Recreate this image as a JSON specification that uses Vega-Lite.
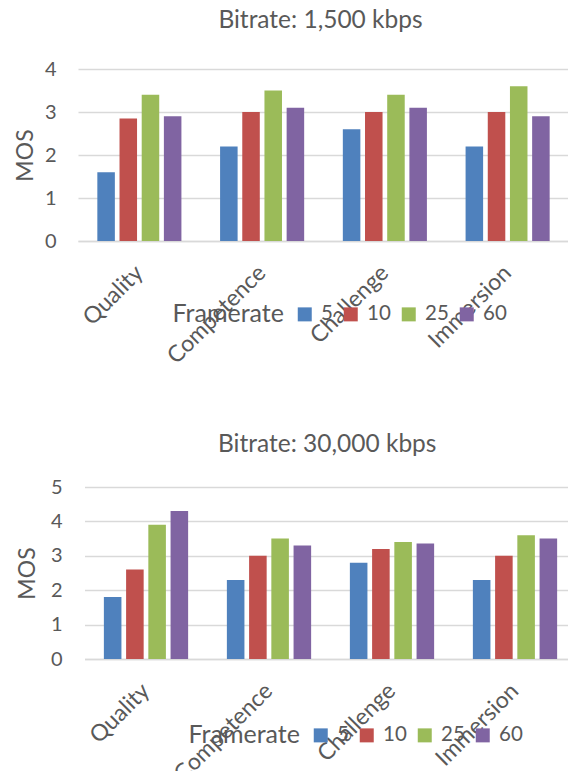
{
  "$schema": "https://vega.github.io/schema/vega-lite/v6.json",
  "padding": {"left": 14, "top": 7, "right": 0, "bottom": 0},
  "background": "#ffffff",
  "config": {
    "font": "Lato",
    "view": {"stroke": null},
    "axis": {"labelColor": "#595959", "titleColor": "#595959", "labelFont": "Lato", "titleFont": "Lato"},
    "legend": {
      "titleOrient": "left",
      "direction": "horizontal",
      "titleFontSize": 25,
      "titleFontWeight": "normal",
      "titleColor": "#595959",
      "titleFont": "Lato",
      "titleAnchor": "middle",
      "titleBaseline": "middle",
      "labelFontSize": 20.5,
      "labelColor": "#595959",
      "labelFont": "Lato",
      "symbolType": "square",
      "symbolSize": 196,
      "symbolStrokeWidth": 0,
      "symbolOpacity": 1,
      "columnPadding": 7,
      "titlePadding": 10,
      "labelOffset": 6
    }
  },
  "datasets": {
    "b1500": [
      {"dimension": "Quality", "framerate": "5", "mos": 1.6},
      {"dimension": "Quality", "framerate": "10", "mos": 2.85},
      {"dimension": "Quality", "framerate": "25", "mos": 3.4},
      {"dimension": "Quality", "framerate": "60", "mos": 2.9},
      {"dimension": "Competence", "framerate": "5", "mos": 2.2},
      {"dimension": "Competence", "framerate": "10", "mos": 3.0},
      {"dimension": "Competence", "framerate": "25", "mos": 3.5},
      {"dimension": "Competence", "framerate": "60", "mos": 3.1},
      {"dimension": "Challenge", "framerate": "5", "mos": 2.6},
      {"dimension": "Challenge", "framerate": "10", "mos": 3.0},
      {"dimension": "Challenge", "framerate": "25", "mos": 3.4},
      {"dimension": "Challenge", "framerate": "60", "mos": 3.1},
      {"dimension": "Immersion", "framerate": "5", "mos": 2.2},
      {"dimension": "Immersion", "framerate": "10", "mos": 3.0},
      {"dimension": "Immersion", "framerate": "25", "mos": 3.6},
      {"dimension": "Immersion", "framerate": "60", "mos": 2.9}
    ],
    "b30000": [
      {"dimension": "Quality", "framerate": "5", "mos": 1.8},
      {"dimension": "Quality", "framerate": "10", "mos": 2.6},
      {"dimension": "Quality", "framerate": "25", "mos": 3.9},
      {"dimension": "Quality", "framerate": "60", "mos": 4.3},
      {"dimension": "Competence", "framerate": "5", "mos": 2.3},
      {"dimension": "Competence", "framerate": "10", "mos": 3.0},
      {"dimension": "Competence", "framerate": "25", "mos": 3.5},
      {"dimension": "Competence", "framerate": "60", "mos": 3.3},
      {"dimension": "Challenge", "framerate": "5", "mos": 2.8},
      {"dimension": "Challenge", "framerate": "10", "mos": 3.2},
      {"dimension": "Challenge", "framerate": "25", "mos": 3.4},
      {"dimension": "Challenge", "framerate": "60", "mos": 3.36},
      {"dimension": "Immersion", "framerate": "5", "mos": 2.3},
      {"dimension": "Immersion", "framerate": "10", "mos": 3.0},
      {"dimension": "Immersion", "framerate": "25", "mos": 3.6},
      {"dimension": "Immersion", "framerate": "60", "mos": 3.5}
    ]
  },
  "columns": 1,
  "align": "none",
  "spacing": 62,
  "resolve": {
    "scale": {"color": "independent", "x": "independent", "y": "independent", "xOffset": "independent"},
    "legend": {"color": "independent"}
  },
  "concat": [
    {
      "data": {"name": "b1500"},
      "width": 491,
      "height": 172,
      "title": {"text": "Bitrate: 1,500 kbps", "frame": "group", "fontSize": 24.5, "fontWeight": "normal", "color": "#595959", "font": "Lato", "baseline": "alphabetic", "offset": 7, "dx": -3},
      "mark": {"type": "bar"},
      "encoding": {
        "x": {
          "field": "dimension", "type": "nominal",
          "sort": ["Quality", "Competence", "Challenge", "Immersion"],
          "scale": {"paddingInner": 0.315, "paddingOuter": 0.1575},
          "axis": {"title": null, "labelAngle": -45, "labelBaseline": "middle", "labelAlign": "right", "labelFontSize": 23, "labelPadding": 28, "ticks": false, "domainColor": "#D9D9D9", "domainWidth": 1.5, "grid": false}
        },
        "xOffset": {"field": "framerate", "type": "nominal", "sort": ["5", "10", "25", "60"], "scale": {"paddingInner": 0.21, "paddingOuter": 0}},
        "y": {
          "field": "mos", "type": "quantitative",
          "scale": {"domain": [0, 4]},
          "axis": {"title": "MOS", "values": [0, 1, 2, 3, 4], "titleFontSize": 23, "titleFontWeight": "normal", "labelFontSize": 20, "labelPadding": 22, "titlePadding": 7, "ticks": false, "domain": false, "gridColor": "#D9D9D9", "gridWidth": 1.5}
        },
        "color": {
          "field": "framerate", "type": "nominal",
          "scale": {"domain": ["5", "10", "25", "60"], "range": ["#4F81BD", "#C0504D", "#9BBB59", "#8064A2"]},
          "legend": {"title": "Framerate", "orient": "none", "legendX": 94.5, "legendY": 235}
        }
      }
    },
    {
      "data": {"name": "b30000"},
      "width": 498.5,
      "height": 172,
      "title": {"text": "Bitrate: 30,000 kbps", "frame": "group", "fontSize": 24.5, "fontWeight": "normal", "color": "#595959", "font": "Lato", "baseline": "alphabetic", "offset": 1},
      "mark": {"type": "bar"},
      "encoding": {
        "x": {
          "field": "dimension", "type": "nominal",
          "sort": ["Quality", "Competence", "Challenge", "Immersion"],
          "scale": {"paddingInner": 0.315, "paddingOuter": 0.1575, "range": [6.5, 498.5]},
          "axis": {"title": null, "labelAngle": -45, "labelBaseline": "middle", "labelAlign": "right", "labelFontSize": 23, "labelPadding": 28, "ticks": false, "domainColor": "#D9D9D9", "domainWidth": 1.5, "grid": false}
        },
        "xOffset": {"field": "framerate", "type": "nominal", "sort": ["5", "10", "25", "60"], "scale": {"paddingInner": 0.21, "paddingOuter": 0}},
        "y": {
          "field": "mos", "type": "quantitative",
          "scale": {"domain": [0, 5]},
          "axis": {"title": "MOS", "values": [0, 1, 2, 3, 4, 5], "titleFontSize": 23, "titleFontWeight": "normal", "labelFontSize": 20, "labelPadding": 16, "titlePadding": 10.5, "ticks": false, "domain": false, "gridColor": "#D9D9D9", "gridWidth": 1.5}
        },
        "color": {
          "field": "framerate", "type": "nominal",
          "scale": {"domain": ["5", "10", "25", "60"], "range": ["#4F81BD", "#C0504D", "#9BBB59", "#8064A2"]},
          "legend": {"title": "Framerate", "orient": "none", "legendX": 110.5, "legendY": 238}
        }
      }
    }
  ]
}
